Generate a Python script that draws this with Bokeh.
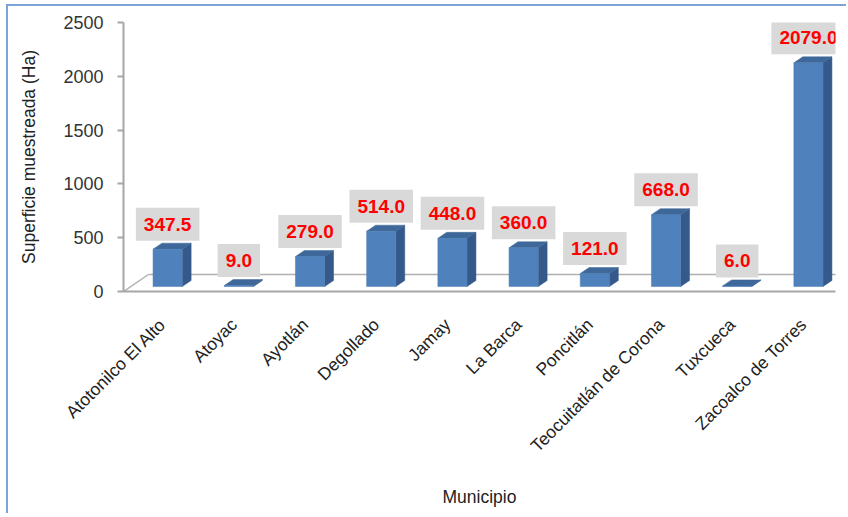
import numpy as np
from bokeh.plotting import figure
from bokeh.models import FixedTicker, Label, Range1d
from bokeh.embed import file_html
from bokeh.resources import INLINE

municipios = ["Atotonilco El Alto", "Atoyac", "Ayotlán", "Degollado", "Jamay",
              "La Barca", "Poncitlán", "Teocuitatlán de Corona", "Tuxcueca",
              "Zacoalco de Torres"]
superficie = [347.5, 9.0, 279.0, 514.0, 448.0, 360.0, 121.0, 668.0, 6.0, 2079.0]
y_ticks = [0, 500, 1000, 1500, 2000, 2500]

FONT = "Liberation Sans"
W, H = 840, 509

p = figure(width=W, height=H, output_backend="svg", toolbar_location=None,
           x_range=Range1d(0, 10), y_range=Range1d(0, 2500),
           min_border_left=115, min_border_right=13, min_border_top=16,
           min_border_bottom=224)
p.outline_line_color = None
p.xgrid.visible = False
p.ygrid.visible = False
p.styles = {"margin-left": "6px", "margin-top": "4px",
            "border-left": "2px solid #7ba3d8", "border-top": "2px solid #7ba3d8"}

# 3D geometry (pseudo depth)
n = len(superficie)
idx = np.arange(n)
vals = np.array(superficie)
fc = idx + 0.62          # front face centre
hw = 0.205               # half width
base = 46.0              # bars sit back on the floor
ddx, ddy = 0.125, 56.0   # side depth
left = fc - hw
right = fc + hw
top = base + vals

# floor
fdx, fdy = 0.35, 158.0
p.line([0, fdx], [0, fdy], line_color="#b0b0b0", line_width=1.5)
p.line([fdx, 10 + fdx], [fdy, fdy], line_color="#b0b0b0", line_width=1.5)

# side faces
side_xs = [[r, r + ddx, r + ddx, r] for r in right]
side_ys = [[base, base + ddy, t + ddy, t] for t in top]
p.patches(side_xs, side_ys, fill_color="#34598a", line_color="#34598a", line_width=0.5)
# top faces
top_xs = [[l, r, r + ddx, l + ddx] for l, r in zip(left, right)]
top_ys = [[t, t, t + ddy, t + ddy] for t in top]
p.patches(top_xs, top_ys, fill_color="#3e6899", line_color="#3e6899", line_width=0.5)
# front faces
p.quad(left=left, right=right, bottom=base, top=top,
       fill_color="#4f81bd", line_color="#4a7ab3", line_width=0.5)

# data labels
for x, t, v in zip(fc, top, superficie):
    p.add_layout(Label(x=float(x), y=float(t), text="%.1f" % v, y_offset=25,
                       text_align="center", text_baseline="middle",
                       text_font=FONT, text_font_size="19px", text_font_style="bold",
                       text_color="#ff0000", background_fill_color="#d9d9d9",
                       padding=dict(left=8, right=8, top=10, bottom=10)))

# axes
p.xaxis.ticker = FixedTicker(ticks=list(idx + 0.55))
p.xaxis.major_label_overrides = {float(i + 0.55): m for i, m in zip(idx, municipios)}
p.xaxis.major_label_orientation = np.pi / 4
p.xaxis.major_tick_line_color = None
p.xaxis.minor_tick_line_color = None
p.xaxis.axis_line_color = "#a6a6a6"
p.xaxis.axis_line_width = 2
p.xaxis.major_label_standoff = 24
p.xaxis.major_label_text_font = FONT
p.xaxis.major_label_text_font_size = "17.5px"
p.xaxis.major_label_text_color = "#222222"
p.xaxis.axis_label = "Municipio"
p.xaxis.axis_label_text_font = FONT
p.xaxis.axis_label_text_font_size = "17.5px"
p.xaxis.axis_label_text_font_style = "normal"
p.xaxis.axis_label_text_color = "#222222"
p.xaxis.axis_label_standoff = 21

p.yaxis.ticker = FixedTicker(ticks=y_ticks)
p.yaxis.minor_tick_line_color = None
p.yaxis.axis_line_color = "#a6a6a6"
p.yaxis.axis_line_width = 2
p.yaxis.major_tick_line_color = "#a6a6a6"
p.yaxis.major_tick_line_width = 2
p.yaxis.major_tick_in = 0
p.yaxis.major_tick_out = 6
p.yaxis.major_label_standoff = 14
p.yaxis.major_label_text_font = FONT
p.yaxis.major_label_text_font_size = "18px"
p.yaxis.major_label_text_color = "#333333"
p.yaxis.axis_label = "Superficie muestreada (Ha)"
p.yaxis.axis_label_text_font = FONT
p.yaxis.axis_label_text_font_size = "17.5px"
p.yaxis.axis_label_text_font_style = "normal"
p.yaxis.axis_label_text_color = "#222222"
p.yaxis.axis_label_standoff = 21

open("out.html", "w").write(file_html(p, INLINE))
